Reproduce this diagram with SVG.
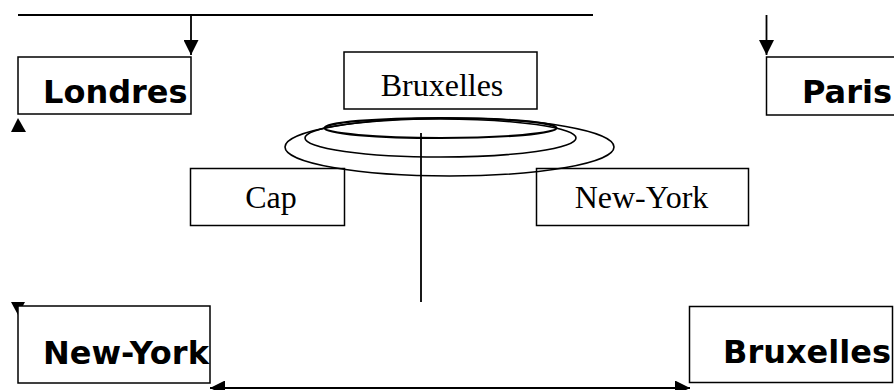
<svg xmlns="http://www.w3.org/2000/svg" width="894" height="390" viewBox="0 0 894 390">
  <style>
    .box { fill: #fff; stroke: #000; stroke-width: 1.5; }
    .bold { font-family: "DejaVu Sans", sans-serif; font-weight: bold; font-size: 32px; fill: #000; }
    .serif { font-family: "Liberation Serif", "Times New Roman", serif; font-size: 32px; fill: #000; text-anchor: middle; }
    .line { fill: none; stroke: #000; stroke-width: 1.8; }
    .ell { fill: none; stroke: #000; stroke-width: 1.6; }
  </style>
  <defs>
    <marker id="arrow" markerUnits="userSpaceOnUse" markerWidth="15" markerHeight="15" refX="15" refY="7.5" orient="auto-start-reverse">
      <path d="M0,0 L15,7.5 L0,15 Z" fill="#000"/>
    </marker>
    <clipPath id="clipNY"><rect x="18" y="306" width="192" height="77"/></clipPath>
  </defs>

  <rect width="894" height="390" fill="#fff"/>

  <g id="connectors">
    <line class="line" x1="18" y1="15" x2="593" y2="15"/>
    <line class="line" x1="191" y1="15" x2="191" y2="55" marker-end="url(#arrow)"/>
    <line class="line" x1="766.5" y1="15" x2="766.5" y2="55" marker-end="url(#arrow)"/>
    <line class="line" x1="210" y1="388" x2="690" y2="388" marker-start="url(#arrow)" marker-end="url(#arrow)"/>
    <polygon points="18,118 11,132 26,132" fill="#000"/>
    <polygon points="11,302 25,302 18,315" fill="#000"/>
  </g>

  <g id="londres">
    <rect class="box" x="18" y="57" width="173" height="57"/>
    <text class="bold" x="43" y="103">Londres</text>
  </g>

  <g id="paris">
    <rect class="box" x="766.5" y="57" width="140" height="58"/>
    <text class="bold" x="802" y="103">Paris</text>
  </g>

  <g id="bruxelles-top">
    <rect class="box" x="344" y="52" width="193" height="57"/>
    <text class="serif" x="442" y="96">Bruxelles</text>
  </g>

  <g id="cap">
    <rect class="box" x="190.5" y="168.5" width="154" height="57"/>
    <text class="serif" x="271" y="208">Cap</text>
  </g>

  <g id="newyork-serif">
    <rect class="box" x="536.5" y="168.5" width="212" height="57"/>
    <text class="serif" x="641.5" y="208">New-York</text>
  </g>

  <g id="ellipses">
    <ellipse class="ell" cx="449.5" cy="147" rx="164.5" ry="29"/>
    <ellipse class="ell" cx="440.5" cy="138" rx="135.5" ry="19"/>
    <ellipse class="ell" cx="440.5" cy="128" rx="116" ry="10" style="stroke-width:2.2"/>
    <line class="line" x1="421" y1="133" x2="421" y2="302"/>
  </g>

  <g id="newyork-bold">
    <rect class="box" x="18" y="306" width="192" height="77"/>
    <text class="bold" x="43" y="364" clip-path="url(#clipNY)">New-York</text>
  </g>

  <g id="bruxelles-bold">
    <rect class="box" x="689.5" y="306.5" width="203" height="76"/>
    <text class="bold" x="723" y="363">Bruxelles</text>
  </g>
</svg>
